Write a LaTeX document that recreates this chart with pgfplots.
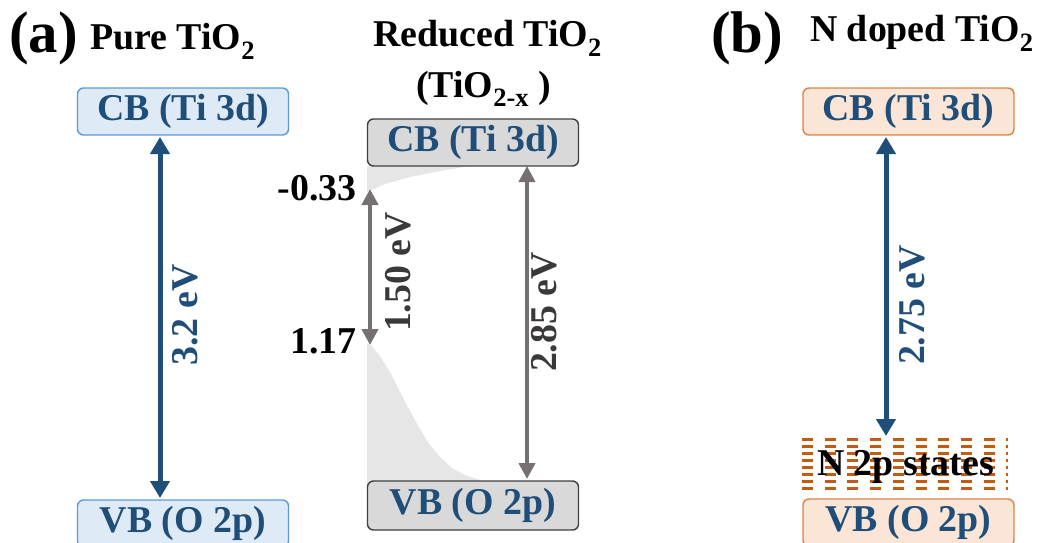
\documentclass[border=0pt]{standalone}
\usepackage{fontspec}
\setmainfont{Liberation Serif}
\usepackage{pgfplots}
\pgfplotsset{compat=1.18}
\usetikzlibrary{arrows.meta}
\definecolor{dblue}{HTML}{1F4E79}
\definecolor{bluefill}{HTML}{DEEBF7}
\definecolor{blueedge}{HTML}{5B9BD5}
\definecolor{grayfill}{HTML}{D9D9D9}
\definecolor{grayedge}{HTML}{404040}
\definecolor{grayarrow}{HTML}{767171}
\definecolor{graytext}{HTML}{3B3838}
\definecolor{shade}{HTML}{E7E6E6}
\definecolor{orfill}{HTML}{FBE5D6}
\definecolor{oredge}{HTML}{D9834A}
\definecolor{ordash}{HTML}{C55A11}
\tikzset{box/.style={draw,rounded corners=6bp,line width=1.4bp,minimum width=211bp,
    minimum height=47bp,inner sep=0pt,text=dblue,font=\fontsize{38}{42}\selectfont\bfseries},
  lab/.style={font=\fontsize{38}{42}\selectfont\bfseries,inner sep=0pt}}
\begin{document}
\begin{tikzpicture}[x=1bp,y=1bp]
\begin{axis}[width=1040bp,height=542bp,scale only axis,
  xmin=0,xmax=1040,ymin=0,ymax=542,y dir=reverse,hide axis,clip=false]
\coordinate (SW) at (axis cs:0,542);
\coordinate (NE) at (axis cs:1040,0);
% shaded defect-state regions
\addplot[fill=shade,draw=none] coordinates {(367,166) (470,166) (440,171) (410,177) (385,184) (367,192)} -- cycle;
\addplot[fill=shade,draw=none] coordinates {(367,343) (372,346) (380,356) (390,372) (400,392) (410,411) (420,429) (430,445) (440,457) (452,468) (465,475) (480,480) (480,484) (367,484)} -- cycle;
% N 2p states dashed lines
\pgfplotsinvokeforeach{439,446,453,460,467,474,481,488}{
  \addplot[ordash,line width=3bp,dash pattern=on 11bp off 11.7bp] coordinates {(802,#1) (1008,#1)};
}
% arrows
\addplot[dblue,line width=5bp,{Triangle[width=19bp,length=17bp]}-{Triangle[width=19bp,length=17bp]}] coordinates {(160,137) (160,498)};
\addplot[grayarrow,line width=4.5bp,{Triangle[width=16bp,length=16bp]}-{Triangle[width=16bp,length=16bp]}] coordinates {(370,189) (370,345)};
\addplot[grayarrow,line width=4.5bp,{Triangle[width=16bp,length=16bp]}-{Triangle[width=16bp,length=16bp]}] coordinates {(527,166) (527,479)};
\addplot[dblue,line width=5bp,{Triangle[width=19bp,length=17bp]}-{Triangle[width=19bp,length=17bp]}] coordinates {(886,137) (886,436)};
% boxes
\node[box,fill=bluefill,draw=blueedge] at (axis cs:183,111.5) {CB (Ti 3d)};
\node[box,fill=bluefill,draw=blueedge] at (axis cs:183,523.5) {VB (O 2p)};
\node[box,fill=grayfill,draw=grayedge] at (axis cs:473,142.5) {CB (Ti 3d)};
\node[box,fill=grayfill,draw=grayedge,minimum height=49bp] at (axis cs:473,505.5) {VB (O 2p)};
\node[box,fill=orfill,draw=oredge] at (axis cs:908.5,111.5) {CB (Ti 3d)};
\node[box,fill=orfill,draw=oredge] at (axis cs:908.5,522.5) {VB (O 2p)};
% titles
\node[lab,anchor=base west,font=\fontsize{59}{62}\selectfont\bfseries] at (axis cs:9,53) {(a)};
\node[lab,anchor=base west] at (axis cs:90,50) {Pure TiO\textsubscript{2}};
\node[lab,anchor=base west] at (axis cs:373,47) {Reduced TiO\textsubscript{2}};
\node[lab,anchor=base west] at (axis cs:416,97) {(TiO\textsubscript{2-x} )};
\node[lab,anchor=base west,font=\fontsize{59}{62}\selectfont\bfseries] at (axis cs:711,53) {(b)};
\node[lab,anchor=base west] at (axis cs:810,42) {N doped TiO\textsubscript{2}};
% values
\node[lab,anchor=base east] at (axis cs:357,200) {-0.33};
\node[lab,anchor=base east] at (axis cs:357,353) {1.17};
\node[lab,rotate=90,text=dblue] at (axis cs:185,315) {3.2 eV};
\node[lab,rotate=90,text=graytext] at (axis cs:398,272) {1.50 eV};
\node[lab,rotate=90,text=graytext] at (axis cs:544,312) {2.85 eV};
\node[lab,rotate=90,text=dblue] at (axis cs:912,305) {2.75 eV};
\node[lab,anchor=base west] at (axis cs:817,475) {N 2p states};
\end{axis}
\pgfresetboundingbox
\useasboundingbox (SW) rectangle (NE);
\end{tikzpicture}
\end{document}
